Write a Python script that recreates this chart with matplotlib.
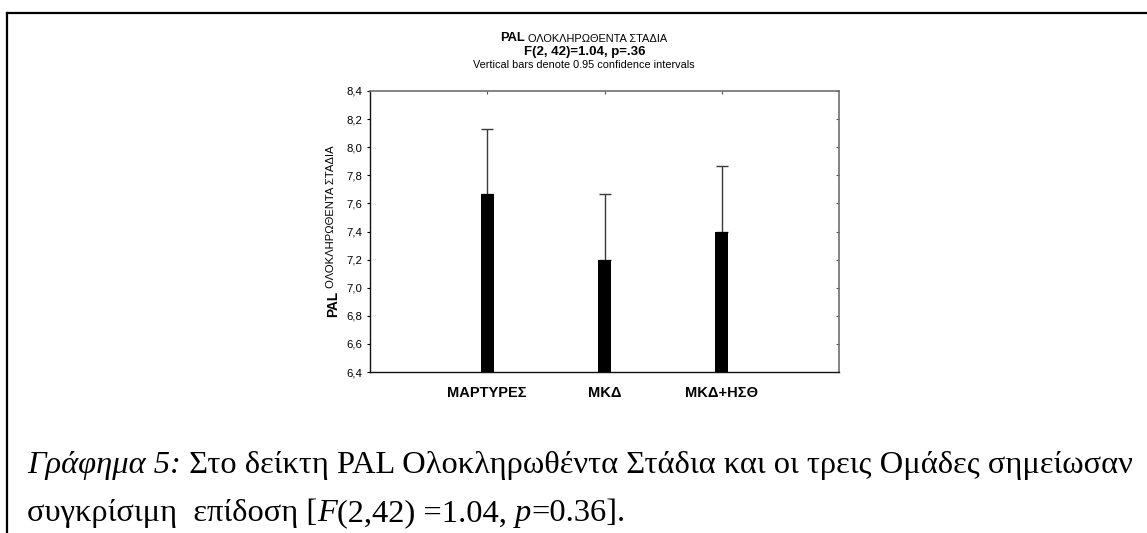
import matplotlib
matplotlib.use("Agg")
import matplotlib.pyplot as plt
from matplotlib.lines import Line2D
import numpy as np

# Data
groups = ["ΜΑΡΤΥΡΕΣ", "ΜΚΔ", "ΜΚΔ+ΗΣΘ"]
means = [7.67, 7.20, 7.40]
ci_upper = [8.13, 7.665, 7.865]
y_ticks = [6.4, 6.6, 6.8, 7.0, 7.2, 7.4, 7.6, 7.8, 8.0, 8.2, 8.4]
y_tick_labels = ["6,4", "6,6", "6,8", "7,0", "7,2", "7,4", "7,6", "7,8", "8,0", "8,2", "8,4"]

W, H = 1147, 533
DPI = 100
fig = plt.figure(figsize=(W / DPI, H / DPI), dpi=DPI)
fig.patch.set_facecolor("white")

SANS = "Liberation Sans"
SERIF = "Liberation Serif"


def fx(px):
    return px / W


def fy(py):
    return 1 - py / H


ax = fig.add_axes([fx(370), fy(372), fx(839) - fx(370), fy(91) - fy(372)])

x = np.arange(len(groups))
err_up = [u - m for u, m in zip(ci_upper, means)]
ax.errorbar(x, means, yerr=[np.zeros(len(x)), err_up], fmt="none",
            ecolor="#3a3a3a", elinewidth=1.0, capsize=4.4, capthick=1.0, zorder=2)
ax.bar(x, means, width=0.11, color="black", zorder=3)

ax.set_xlim(-1, 3)
ax.set_ylim(6.4, 8.4)
ax.set_yticks(y_ticks)
ax.set_yticklabels(y_tick_labels, fontsize=8.2, family=SANS)
ax.set_xticks(x)
ax.set_xticklabels(groups, fontsize=10.5, fontweight="bold", family=SANS)
ax.tick_params(axis="x", length=0, pad=10)
ax.tick_params(axis="y", direction="out", length=2.5, width=0.8, pad=3)

for side in ("left", "bottom"):
    ax.spines[side].set_color("#111111")
    ax.spines[side].set_linewidth(1.0)
for side in ("top", "right"):
    ax.spines[side].set_color("#707070")
    ax.spines[side].set_linewidth(1.2)

# inward ticks on top and right frame
top = ax.secondary_xaxis("top")
top.set_xticks(x)
top.set_xticklabels([])
top.tick_params(direction="in", length=2.5, width=0.8, color="#555555")
top.spines["top"].set_visible(False)
right = ax.secondary_yaxis("right")
right.set_yticks(y_ticks)
right.set_yticklabels([])
right.tick_params(direction="in", length=2.5, width=0.8, color="#555555")
right.spines["right"].set_visible(False)

# Titles
t1 = fig.text(fx(500), fy(38), "PAL", fontsize=9.3, fontweight="bold", family=SANS,
              ha="left", va="center")
fig.add_artist(plt.Annotation(" ΟΛΟΚΛΗΡΩΘΕΝΤΑ ΣΤΑΔΙΑ", xy=(1, 0), xycoords=t1,
                              va="bottom", ha="left", fontsize=7.9, family=SANS))
fig.text(fx(585), fy(52.5), "F(2, 42)=1.04, p=.36", fontsize=9.5, fontweight="bold",
         family=SANS, ha="center", va="center")
fig.text(fx(584), fy(65.5), "Vertical bars denote 0.95 confidence intervals", fontsize=7.8,
         family=SANS, ha="center", va="center")

# Y-axis label
yl = fig.text(fx(333), fy(317), "PAL", fontsize=9.8, fontweight="bold", family=SANS,
              rotation=90, ha="center", va="bottom")
fig.add_artist(plt.Annotation(" ΟΛΟΚΛΗΡΩΘΕΝΤΑ ΣΤΑΔΙΑ", xy=(0, 1), xycoords=yl,
                              va="bottom", ha="left", rotation=90,
                              fontsize=8.1, family=SANS))

# Caption below the chart
cap_fs = 23.4
c1 = fig.text(fx(27), fy(473), "Γράφημα 5:", fontsize=cap_fs, family=SERIF,
              style="italic", ha="left", va="baseline")
fig.add_artist(plt.Annotation(" Στο δείκτη PAL Ολοκληρωθέντα Στάδια και οι τρεις Ομάδες σημείωσαν",
                              xy=(1, 0), xycoords=c1, va="bottom", ha="left",
                              fontsize=cap_fs, family=SERIF))

pieces = [("συγκρίσιμη  επίδοση [", "normal"), ("F", "italic"), ("(2,42) =1.04, ", "normal"),
          ("p", "italic"), ("=0.36].", "normal")]
prev = fig.text(fx(27), fy(521), pieces[0][0], fontsize=cap_fs, family=SERIF,
                style=pieces[0][1], ha="left", va="baseline")
for txt, st in pieces[1:]:
    a = plt.Annotation(txt, xy=(1, 0), xycoords=prev, va="bottom", ha="left",
                       fontsize=cap_fs, family=SERIF, style=st)
    fig.add_artist(a)
    prev = a

# Page frame lines
fig.add_artist(Line2D([fx(7.5), 1.0], [fy(12.5), fy(12.5)], color="black", lw=1.6,
                      transform=fig.transFigure))
fig.add_artist(Line2D([fx(7.5), fx(7.5)], [fy(12.5), 0.0], color="black", lw=1.6,
                      transform=fig.transFigure))

fig.savefig("out.png", dpi=DPI)
